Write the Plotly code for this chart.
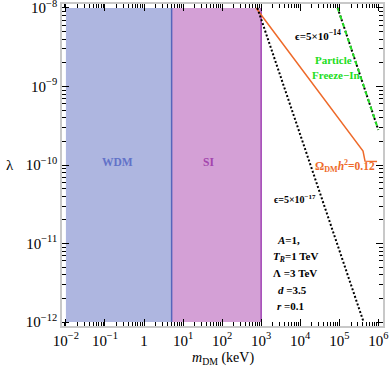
import plotly.graph_objects as go

# ---- data ----
x_ticks = [1e-2, 1e-1, 1, 1e1, 1e2, 1e3, 1e4, 1e5, 1e6]
x_ticklabels = ["10<sup>−2</sup>", "10<sup>−1</sup>", "1", "10<sup>1</sup>", "10<sup>2</sup>",
                "10<sup>3</sup>", "10<sup>4</sup>", "10<sup>5</sup>", "10<sup>6</sup>"]
y_ticks = [1e-12, 1e-11, 1e-10, 1e-9, 1e-8]
y_ticklabels = ["10<sup>−12</sup>", "10<sup>−11</sup>", "10<sup>−10</sup>", "10<sup>−9</sup>", "10<sup>−8</sup>"]

wdm_m = [0.01, 5.1]
si_m = [5.1, 1000]
band_lambda = [1e-12, 1e-8]

relic_m = [738, 2.25e5, 4.06e5, 4.56e5, 9.3e5]
relic_lambda = [1e-8, 2.2e-10, 1.5e-10, 1.12e-10, 1.11e-10]

eps17_m = [800, 4.2e5]
eps17_lambda = [1e-8, 1e-12]

eps14_m = [9.1e4, 1e6]
eps14_lambda = [1e-8, 2.8e-10]

minor_x = [k * 10.0 ** n for n in range(-3, 7) for k in range(2, 10)]
minor_y = [k * 10.0 ** n for n in range(-13, -7) for k in range(2, 10)]

FONT = "Liberation Serif"

fig = go.Figure()


def rect(xr, yr):
    return [xr[0], xr[1], xr[1], xr[0], xr[0]], [yr[0], yr[0], yr[1], yr[1], yr[0]]


xs, ys = rect(wdm_m, band_lambda)
fig.add_trace(go.Scatter(x=xs, y=ys, fill="toself", fillcolor="#aeb6e0", mode="lines",
                         line=dict(width=0), hoverinfo="skip", showlegend=False))
xs, ys = rect(si_m, band_lambda)
fig.add_trace(go.Scatter(x=xs, y=ys, fill="toself", fillcolor="#d4a0d6", mode="lines",
                         line=dict(width=0), hoverinfo="skip", showlegend=False))
# edges
fig.add_trace(go.Scatter(x=[wdm_m[1], wdm_m[1]], y=band_lambda, mode="lines",
                         line=dict(color="#5566bb", width=1.5), showlegend=False))
fig.add_trace(go.Scatter(x=[si_m[1], si_m[1]], y=band_lambda, mode="lines",
                         line=dict(color="#a044b4", width=1.5), showlegend=False))

# relic line
fig.add_trace(go.Scatter(x=relic_m, y=relic_lambda, mode="lines",
                         line=dict(color="#ee6a2a", width=1.5), showlegend=False))
# eps = 5e-17
fig.add_trace(go.Scatter(x=eps17_m, y=eps17_lambda, mode="lines",
                         line=dict(color="black", width=2, dash="2px,2px"), showlegend=False))
# eps = 5e-14 (freeze-in)
fig.add_trace(go.Scatter(x=eps14_m, y=eps14_lambda, mode="lines",
                         line=dict(color="black", width=2, dash="2px,2px"), showlegend=False))
fig.add_trace(go.Scatter(x=eps14_m, y=eps14_lambda, mode="lines",
                         line=dict(color="#22e022", width=2, dash="4px,4px"), showlegend=False))

axis_common = dict(
    type="log", showgrid=False, zeroline=False, showline=True, linecolor="#c8c8c8", linewidth=1.5,
    mirror="allticks", ticks="inside", ticklen=7, tickcolor="black", tickwidth=1,
    tickfont=dict(family=FONT, size=15, color="black"), automargin=False,
    ticklabeloverflow="allow",
)

fig.update_xaxes(**axis_common, range=[-2.1, 6.12], tickmode="array", tickvals=x_ticks,
                 ticktext=x_ticklabels,
                 minor=dict(ticks="inside", ticklen=4, tickcolor="black", tickmode="array",
                            tickvals=minor_x, showgrid=False))
fig.update_yaxes(**axis_common, range=[-12.05, -7.95], tickmode="array", tickvals=y_ticks,
                 ticktext=y_ticklabels, ticklabelstandoff=0,
                 minor=dict(ticks="inside", ticklen=4, tickcolor="black", tickmode="array",
                            tickvals=minor_y, showgrid=False))

ann = []


def add(text, x, y, color="black", size=11):
    ann.append(dict(text=text, x=x, y=y, xref="x", yref="y", showarrow=False,
                    font=dict(family=FONT, size=size, color=color)))


add("<b>WDM</b>", -0.69, -9.96, "#6272c8", 11.5)
add("<b>SI</b>", 1.66, -9.96, "#a344ad", 11.5)
add("<b>ϵ=5×10<sup>−14</sup></b>", 4.45, -8.345, "black", 11)
add("<b>Particle</b>", 4.84, -8.663, "#22dd22", 11)
add("<b>Freeze−In</b>", 4.92, -8.854, "#22dd22", 11)
add("<b>Ω<sub>DM</sub><i>h</i><sup>2</sup>=0.12</b>", 5.15, -10.014, "#ee6a2a", 11.5)
add("<b>ϵ=5×10<sup>−17</sup></b>", 3.87, -10.434, "black", 10)
add("<b><i>A</i>=1,</b>", 3.69, -10.956, "black", 11)
add("<b><i>T</i><sub><i>R</i></sub>=1 TeV</b>", 3.87, -11.173, "black", 11)
add("<b>Λ =3 TeV</b>", 3.87, -11.377, "black", 11)
add("<b><i>d</i> =3.5</b>", 3.815, -11.593, "black", 11)
add("<b><i>r</i> =0.1</b>", 3.74, -11.797, "black", 11)

ann.append(dict(text="λ", x=-0.162, y=0.5, xref="paper", yref="paper", showarrow=False,
                xanchor="center", yanchor="middle",
                font=dict(family=FONT, size=15, color="black")))
ann.append(dict(text="<i>m</i><sub>DM</sub> (keV)", x=0.5, y=-0.1, xref="paper", yref="paper",
                xanchor="center", yanchor="middle",
                showarrow=False, font=dict(family=FONT, size=14, color="black")))

fig.update_layout(
    width=390, height=372, margin=dict(l=62, r=7, t=4, b=46, autoexpand=False),
    paper_bgcolor="white", plot_bgcolor="white", annotations=ann,
)

fig.write_html("out.html", config={"displayModeBar": False},
               post_script="document.body.style.margin='0';")
